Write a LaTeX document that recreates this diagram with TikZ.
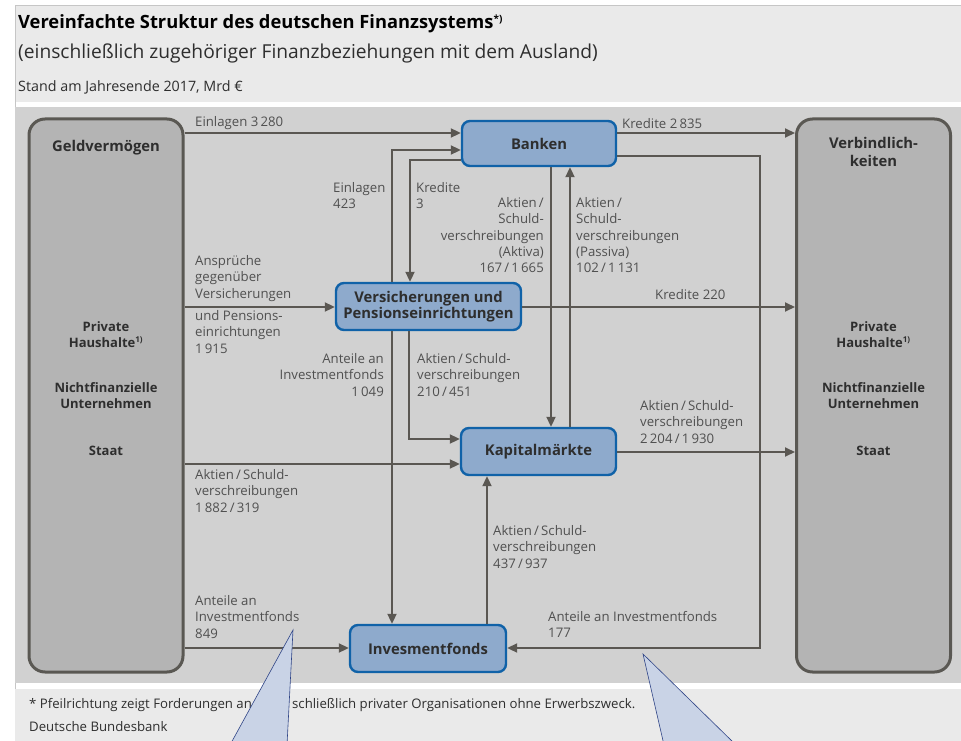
\documentclass[tikz,border=0pt]{standalone}
\usepackage{fontspec}
\setmainfont{Open Sans}
\usetikzlibrary{arrows.meta}

\definecolor{panelLight}{HTML}{EAEAEA}
\definecolor{panelDark}{HTML}{D1D1D1}
\definecolor{edgeGray}{HTML}{C6C6C6}
\definecolor{sectorFill}{HTML}{B4B4B4}
\definecolor{sectorEdge}{HTML}{5A5853}
\definecolor{instFill}{HTML}{8EAACC}
\definecolor{instEdge}{HTML}{1062A8}
\definecolor{flowGray}{HTML}{5A5752}
\definecolor{txtGray}{HTML}{505050}
\definecolor{txtDark}{HTML}{2E2E2E}
\definecolor{tailFill}{HTML}{C9D3E6}
\definecolor{tailEdge}{HTML}{2F4486}

\tikzset{
  sector/.style={draw=sectorEdge, line width=3pt, fill=sectorFill,
    rounded corners=16pt, minimum width=154pt, minimum height=553pt, inner sep=0pt},
  inst/.style={draw=instEdge, line width=2.4pt, fill=instFill,
    rounded corners=8pt, inner sep=0pt, align=center, text=txtDark,
    font=\bfseries\fontsize{14.8}{18}\selectfont},
  flow/.style={draw=flowGray, line width=2pt,
    -{Triangle[length=10pt,width=9pt]}},
  lbl/.style={inner sep=0pt, align=left, text=txtGray,
    font=\fontsize{13.2}{16.4}\selectfont},
  lblr/.style={lbl, align=right},
  sectxt/.style={inner sep=0pt, align=center, text=txtDark,
    font=\bfseries\fontsize{13}{16}\selectfont},
  tail/.style={fill=tailFill, draw=tailEdge, line width=0.6pt},
}

\begin{document}
\begin{tikzpicture}[x=1pt, y=-1pt]
\useasboundingbox (0,0) rectangle (961,741);
\fill[white] (0,0) rectangle (961,741);

% background panels
\fill[panelLight] (15,5) rectangle (961,102);
\draw[edgeGray, line width=0.8pt] (15,741) -- (15,5) -- (961,5);
\fill[panelDark] (15.4,107) rectangle (961,683);
\fill[panelLight] (15.4,689) rectangle (961,741);

% heading
\node[anchor=base west, inner sep=0pt, text=black,
  font=\bfseries\fontsize{18.3}{20}\selectfont] (title) at (18,29)
  {Vereinfachte Struktur des deutschen Finanzsystems\textsuperscript{\fontsize{10}{10}\selectfont *)}};
\node[anchor=base west, inner sep=0pt, text=txtDark,
  font=\fontsize{19.2}{22}\selectfont] (subtitle) at (18,59)
  {(einschließlich zugehöriger Finanzbeziehungen mit dem Ausland)};
\node[anchor=base west, inner sep=0pt, text=txtDark,
  font=\fontsize{14.3}{16}\selectfont] (stand) at (18,92)
  {Stand am Jahresende 2017, Mrd €};

% sector boxes
\node[sector] (geld) at (106,395.5) {};
\node[sector] (verb) at (873.5,395.5) {};

\node[sectxt, font=\bfseries\fontsize{14.8}{18}\selectfont, anchor=base] (geldhead) at (106,151) {Geldvermögen};
\node[sectxt, font=\bfseries\fontsize{14.8}{18}\selectfont, anchor=north] (verbhead) at (873.5,137) {Verbindlich-\\keiten};

\node[sectxt, anchor=north] (geldph) at (106,321) {Private\\Haushalte\textsuperscript{\fontsize{8}{8}\selectfont 1)}};
\node[sectxt, anchor=north] (geldnu) at (106,382) {Nichtfinanzielle\\Unternehmen};
\node[sectxt, anchor=base] (geldst) at (106,455) {Staat};
\node[sectxt, anchor=north] (verbph) at (873.5,321) {Private\\Haushalte\textsuperscript{\fontsize{8}{8}\selectfont 1)}};
\node[sectxt, anchor=north] (verbnu) at (873.5,382) {Nichtfinanzielle\\Unternehmen};
\node[sectxt, anchor=base] (verbst) at (873.5,455) {Staat};

% institutions
\node[inst, minimum width=154pt, minimum height=45pt] (banken) at (539,143.5) {Banken};
\node[inst, minimum width=185pt, minimum height=47pt] (vers) at (428.5,306.5) {Versicherungen und\\[-2pt]Pensionseinrichtungen};
\node[inst, minimum width=155pt, minimum height=47pt] (kap) at (538.5,451.5) {Kapitalmärkte};
\node[inst, minimum width=156pt, minimum height=47pt] (inv) at (428,648.5) {Invesmentfonds};

% flows
\draw[flow] (geld.east |- 0,133) -- (banken.west |- 0,133);
\draw[flow] (banken.east |- 0,133) -- (verb.west |- 0,133);
\draw[flow] (banken.east |- 0,156) -| (760,648) -- (inv.east |- 0,648);

\draw[flow] (vers.north -| 392,0) |- (banken.west |- 0,150);
\draw[flow] (banken.west |- 0,160) -| (vers.north -| 410,0);
\draw[flow] (vers.south -| 392,0) -- (inv.north -| 392,0);

\draw[flow] (banken.south -| 551,0) -- (kap.north -| 551,0);
\draw[flow] (kap.north -| 570,0) -- (banken.south -| 570,0);

\draw[flow] (geld.east |- 0,307) -- (vers.west |- 0,307);
\draw[flow] (vers.east |- 0,307) -- (verb.west |- 0,307);

\draw[flow] (vers.south -| 409,0) |- (kap.west |- 0,439);
\draw[flow] (geld.east |- 0,464) -- (kap.west |- 0,464);
\draw[flow] (kap.east |- 0,452) -- (verb.west |- 0,452);
\draw[flow] (inv.north -| 487,0) -- (kap.south -| 487,0);
\draw[flow] (geld.east |- 0,648) -- (inv.west |- 0,648);

% flow labels
\node[lbl, anchor=base west] (l1) at (195,127) {Einlagen 3\,280};
\node[lbl, anchor=base west] (l2) at (622,129) {Kredite 2\,835};
\node[lbl, anchor=north west] (l3) at (333,182) {Einlagen\\423};
\node[lbl, anchor=north west] (l4) at (416,182) {Kredite\\3};
\node[lblr, anchor=north east] (l5) at (544,197) {Aktien\,/\\Schuld-\\verschreibungen\\(Aktiva)\\167\,/\,1\,665};
\node[lbl, anchor=north west] (l6) at (576,197) {Aktien\,/\\Schuld-\\verschreibungen\\(Passiva)\\102\,/\,1\,131};
\node[lbl, anchor=north west] (l7) at (195,255) {Ansprüche\\gegenüber\\Versicherungen};
\node[lbl, anchor=north west] (l8) at (195,310) {und Pensions-\\einrichtungen\\1\,915};
\node[lbl, anchor=base west] (l9) at (655,299) {Kredite 220};
\node[lblr, anchor=north east] (l10) at (384,353) {Anteile an\\Investmentfonds\\1\,049};
\node[lbl, anchor=north west] (l11) at (417,353) {Aktien\,/\,Schuld-\\verschreibungen\\210\,/\,451};
\node[lbl, anchor=north west] (l12) at (640,400) {Aktien\,/\,Schuld-\\verschreibungen\\2\,204\,/\,1\,930};
\node[lbl, anchor=north west] (l13) at (195,469) {Aktien\,/\,Schuld-\\verschreibungen\\1\,882\,/\,319};
\node[lbl, anchor=north west] (l14) at (493,525) {Aktien\,/\,Schuld-\\verschreibungen\\437\,/\,937};
\node[lbl, anchor=north west] (l15) at (195,595) {Anteile an\\Investmentfonds\\849};
\node[lbl, anchor=north west] (l16) at (548,611) {Anteile an Investmentfonds\\177};

% footer
\node[lbl, anchor=base west, text=txtDark] (f1) at (29,708) {* Pfeilrichtung zeigt Forderungen an};
\node[lbl, anchor=base west, text=txtDark] (f2) at (292,708) {schließlich privater Organisationen ohne Erwerbszweck.};
\node[lbl, anchor=base west, text=txtDark] (f3) at (29,731) {Deutsche Bundesbank};

% pointer tails
\begin{scope}
\clip (0,0) rectangle (961,741);
\draw[tail] (293,630) -- (230,745) -- (287,745) -- cycle;
\draw[tail] (643,654) -- (664,745) -- (736,745) -- cycle;
\end{scope}
\end{tikzpicture}
\end{document}
